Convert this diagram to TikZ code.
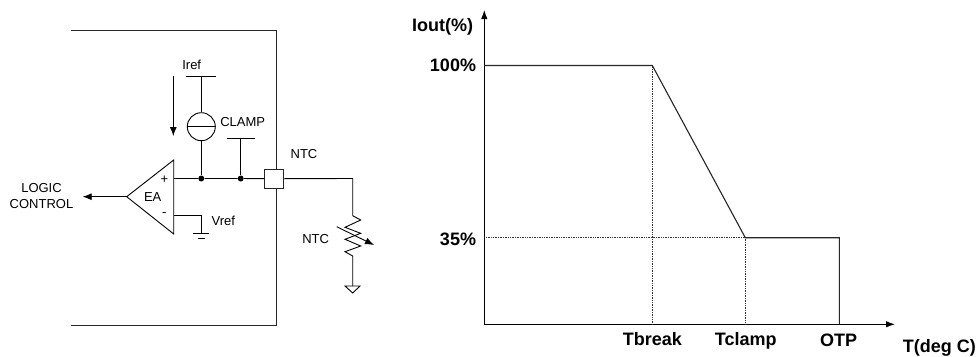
\documentclass[tikz,border=0pt]{standalone}
\usepackage{fontspec}
\setmainfont{Liberation Sans}
\usetikzlibrary{arrows.meta}
\tikzset{
  wire/.style={draw=black,line width=0.9pt},
  chip/.style={draw=black!85,line width=1pt},
  curve/.style={draw=black!85,line width=1.1pt},
  guide/.style={draw=black!80,line width=0.7pt,densely dotted},
  axis/.style={draw=black,line width=1pt,-{Latex[length=9pt,width=6.5pt]}},
  sig/.style={draw=black,line width=0.9pt,-{Latex[length=9pt,width=7pt]}},
  lab/.style={font=\fontsize{13}{16}\selectfont,inner sep=0pt,align=center},
  blab/.style={font=\fontsize{18}{20}\selectfont\bfseries,inner sep=0pt,align=center},
  dotn/.style={circle,fill=black,inner sep=0pt,minimum size=6pt},
  pad/.style={draw=black!85,fill=white,line width=0.9pt,minimum size=19pt,inner sep=0pt},
  src/.style={circle,draw=black,fill=white,line width=0.9pt,minimum size=28pt,inner sep=0pt}
}
\begin{document}
\begin{tikzpicture}[x=1pt,y=-1pt]
\useasboundingbox (0,0) rectangle (979,356);
% chip outline
\coordinate (ctl) at (70.7,30);
\coordinate (ctr) at (276.7,30);
\coordinate (cbr) at (276.7,325.7);
\coordinate (cbl) at (70.7,325.7);
\draw[chip] (ctl) -- (ctr) -- (cbr) -- (cbl);
% amplifier
\coordinate (eaT) at (173.7,160);
\coordinate (eaB) at (173.7,234);
\coordinate (eaL) at (126.7,196.7);
\draw[wire] (eaT) -- (eaB) -- (eaL) -- cycle;
\node[lab] (ea) at (152.7,196.7) {EA};
\node[lab] (plus) at (164.3,179.3) {+};
\node[lab] (minus) at (164.3,215) {-};
% NTC pin
\node[pad] (pin) at (274.2,178.7) {};
\coordinate (eaP) at (173.7,178.5);
\node[dotn] (d1) at (201.3,178.5) {};
\node[dotn] (d2) at (240.7,178.5) {};
\draw[wire] (eaP) -- (d1) -- (d2) -- (pin.west);
% current source
\coordinate (irefbarL) at (186,76.3);
\coordinate (irefbarR) at (215.7,76.3);
\coordinate (irefM) at (201.3,76.3);
\node[src] (cs) at (201.3,126.7) {};
\draw[wire] (irefbarL) -- (irefbarR);
\draw[wire] (irefM) -- (cs.north);
\draw[wire] (cs.south) -- (d1);
\draw[wire] (cs.west) -- (cs.east);
\node[lab] (iref) at (191.7,65) {Iref};
\node[lab] (clamp) at (242.7,122) {CLAMP};
\coordinate (arA) at (173.3,76);
\coordinate (arB) at (173.3,136);
\draw[sig] (arA) -- (arB);
% clamp rail
\coordinate (clL) at (226.7,138.7);
\coordinate (clR) at (255,138.7);
\coordinate (clM) at (240.7,138.7);
\draw[wire] (clL) -- (clR);
\draw[wire] (clM) -- (d2);
% Vref
\coordinate (vA) at (173.7,215);
\coordinate (vB) at (201.3,215);
\coordinate (vC) at (201.3,233.5);
\coordinate (g1L) at (193.3,233.5);
\coordinate (g1R) at (208.7,233.5);
\coordinate (g2L) at (198,238);
\coordinate (g2R) at (205,238);
\draw[wire] (vA) -- (vB) -- (vC);
\draw[wire] (g1L) -- (g1R);
\draw[wire] (g2L) -- (g2R);
\node[lab] (vref) at (223.3,220.7) {Vref};
% logic control
\node[lab] (logic) at (41.5,196.3) {LOGIC\\CONTROL};
\coordinate (lgTip) at (82.7,196.7);
\draw[sig] (eaL) -- (lgTip);
% NTC network
\node[lab] (ntcT) at (304,154) {NTC};
\coordinate (nA) at (352.7,178.5);
\coordinate (nB) at (352.7,215.7);
\coordinate (nC) at (352.7,256);
\coordinate (nD) at (352.7,286);
\draw[wire] (pin.east) -- (nA) -- (nB)
  -- (360.7,220) -- (345,227.3) -- (360.7,233.3) -- (345,239.3) -- (360.7,246) -- (345,251.7) -- (nC) -- (nD);
\coordinate (gnL) at (345,286);
\coordinate (gnR) at (360,286);
\coordinate (gnT) at (352.7,293);
\draw[wire] (gnL) -- (gnR) -- (gnT) -- cycle;
\coordinate (rA) at (336.7,226.7);
\coordinate (rB) at (374,245);
\draw[sig] (rA) -- (rB);
\node[lab] (ntcL) at (315.7,239.3) {NTC};
% chart
\coordinate (o) at (484.3,324.3);
\coordinate (yTip) at (484.3,10);
\coordinate (xTip) at (895,324.3);
\draw[axis] (o) -- (yTip);
\draw[axis] (o) -- (xTip);
\coordinate (p100) at (484.3,65.5);
\coordinate (pBr) at (652.3,65.5);
\coordinate (pCl) at (745.3,237.7);
\coordinate (pOt) at (839.3,237.7);
\coordinate (xBr) at (652.3,324.3);
\coordinate (xCl) at (745.3,324.3);
\coordinate (xOt) at (839.3,324.3);
\coordinate (p35) at (484.3,237.7);
\draw[guide] (pBr) -- (xBr);
\draw[guide] (p35) -- (pCl) -- (xCl);
\draw[curve] (p100) -- (pBr) -- (pCl) -- (pOt) -- (xOt);
\node[blab] (iout) at (442.5,26.7) {Iout(\%)};
\node[blab] (l100) at (453,65) {100\%};
\node[blab] (l35) at (458,239) {35\%};
\node[blab] (tbr) at (652.3,339.3) {Tbreak};
\node[blab] (tcl) at (745.7,341) {Tclamp};
\node[blab] (otp) at (838.7,340) {OTP};
\node[blab] (tdeg) at (939.3,347.7) {T(deg C)};
\end{tikzpicture}
\end{document}
